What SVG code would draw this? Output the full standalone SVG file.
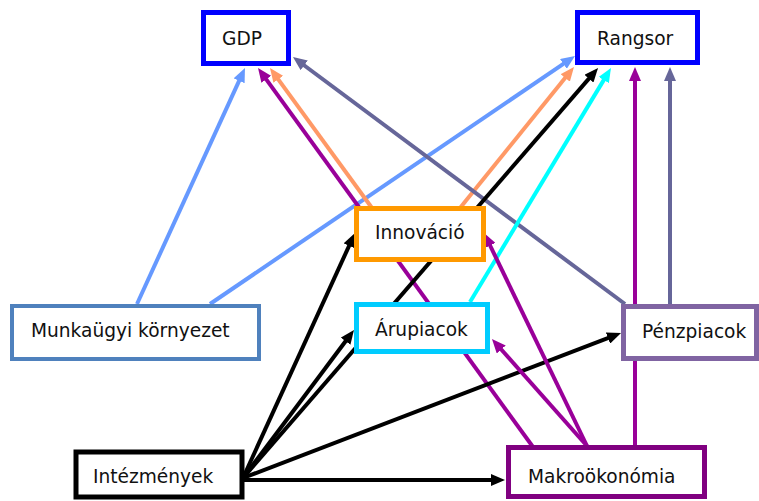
<svg xmlns="http://www.w3.org/2000/svg" width="759" height="501" viewBox="0 0 759 501">
<style>
.c{fill:none;stroke-width:4;stroke-linecap:butt}
.b{fill:#fff;stroke-width:5}
text{font-family:"DejaVu Sans","Liberation Sans",sans-serif;font-size:18.6px;fill:#111}
</style>
<defs>
<marker id="aLB" markerUnits="userSpaceOnUse" viewBox="0 0 14 12" markerWidth="14" markerHeight="12" refX="4" refY="6" orient="auto"><path d="M0,0L14,6L0,12z" fill="#6699FF"/></marker>
<marker id="aOR" markerUnits="userSpaceOnUse" viewBox="0 0 14 12" markerWidth="14" markerHeight="12" refX="4" refY="6" orient="auto"><path d="M0,0L14,6L0,12z" fill="#FF9966"/></marker>
<marker id="aPU" markerUnits="userSpaceOnUse" viewBox="0 0 14 12" markerWidth="14" markerHeight="12" refX="4" refY="6" orient="auto"><path d="M0,0L14,6L0,12z" fill="#990099"/></marker>
<marker id="aSL" markerUnits="userSpaceOnUse" viewBox="0 0 14 12" markerWidth="14" markerHeight="12" refX="4" refY="6" orient="auto"><path d="M0,0L14,6L0,12z" fill="#666699"/></marker>
<marker id="aBK" markerUnits="userSpaceOnUse" viewBox="0 0 14 12" markerWidth="14" markerHeight="12" refX="4" refY="6" orient="auto"><path d="M0,0L14,6L0,12z" fill="#000"/></marker>
<marker id="aCY" markerUnits="userSpaceOnUse" viewBox="0 0 14 12" markerWidth="14" markerHeight="12" refX="4" refY="6" orient="auto"><path d="M0,0L14,6L0,12z" fill="#00FFFF"/></marker>
</defs>
<g id="connectors">
<line class="c" x1="137" y1="304" x2="240.8" y2="77.1" stroke="#6699FF" marker-end="url(#aLB)"/>
<line class="c" x1="210" y1="304" x2="566.7" y2="61.6" stroke="#6699FF" marker-end="url(#aLB)"/>
<line class="c" x1="533" y1="447" x2="263.9" y2="76.1" stroke="#990099" marker-end="url(#aPU)"/>
<line class="c" x1="372" y1="208" x2="275.9" y2="76.1" stroke="#FF9966" marker-end="url(#aOR)"/>
<line class="c" x1="460" y1="208" x2="567.7" y2="74.8" stroke="#FF9966" marker-end="url(#aOR)"/>
<line class="c" x1="625" y1="304" x2="301" y2="63" stroke="#666699" marker-end="url(#aSL)"/>
<line class="c" x1="243" y1="478" x2="591.5" y2="75.6" stroke="#000" marker-end="url(#aBK)"/>
<line class="c" x1="470" y1="302" x2="605.8" y2="76.6" stroke="#00FFFF" marker-end="url(#aCY)"/>
<line class="c" x1="635" y1="447" x2="635" y2="77" stroke="#990099" marker-end="url(#aPU)"/>
<line class="c" x1="670" y1="306" x2="670" y2="77" stroke="#666699" marker-end="url(#aSL)"/>
<line class="c" x1="243" y1="478" x2="350.8" y2="242.1" stroke="#000" marker-end="url(#aBK)"/>
<line class="c" x1="243" y1="478" x2="348" y2="338" stroke="#000" marker-end="url(#aBK)"/>
<line class="c" x1="243" y1="478" x2="611.7" y2="336.6" stroke="#000" marker-end="url(#aBK)"/>
<line class="c" x1="243" y1="480" x2="495" y2="480" stroke="#000" marker-end="url(#aBK)"/>
<line class="c" x1="587" y1="446" x2="488.4" y2="242" stroke="#990099" marker-end="url(#aPU)"/>
<line class="c" x1="587" y1="446" x2="498.6" y2="346.5" stroke="#990099" marker-end="url(#aPU)"/>
</g>
<g id="gdp"><rect class="b" x="203.5" y="12.5" width="85" height="51" stroke="#0000FF"/><text x="222" y="45">GDP</text></g>
<g id="rangsor"><rect class="b" x="577.5" y="12.5" width="120" height="50" stroke="#0000FF"/><text x="597" y="45">Rangsor</text></g>
<g id="innovacio"><rect class="b" x="356.5" y="208.5" width="127" height="51" stroke="#FF9900"/><text x="375" y="239">Innováció</text></g>
<g id="munkaugyi"><rect x="12" y="306" width="247" height="53" fill="#fff" stroke="#4F81BD" stroke-width="4"/><text x="31" y="337">Munkaügyi környezet</text></g>
<g id="arupiacok"><rect class="b" x="356.5" y="304.5" width="131" height="47" stroke="#00CCFF"/><text x="375" y="336">Árupiacok</text></g>
<g id="penzpiacok"><rect class="b" x="623.5" y="306.5" width="133" height="52" stroke="#8064A2"/><text x="642" y="338">Pénzpiacok</text></g>
<g id="intezmenyek"><rect class="b" x="76" y="452" width="166" height="45" stroke="#000" stroke-width="6"/><text x="93" y="483">Intézmények</text></g>
<g id="makro"><rect class="b" x="508.5" y="447.5" width="196" height="49" stroke="#800080"/><text x="528" y="483">Makroökonómia</text></g>
</svg>
